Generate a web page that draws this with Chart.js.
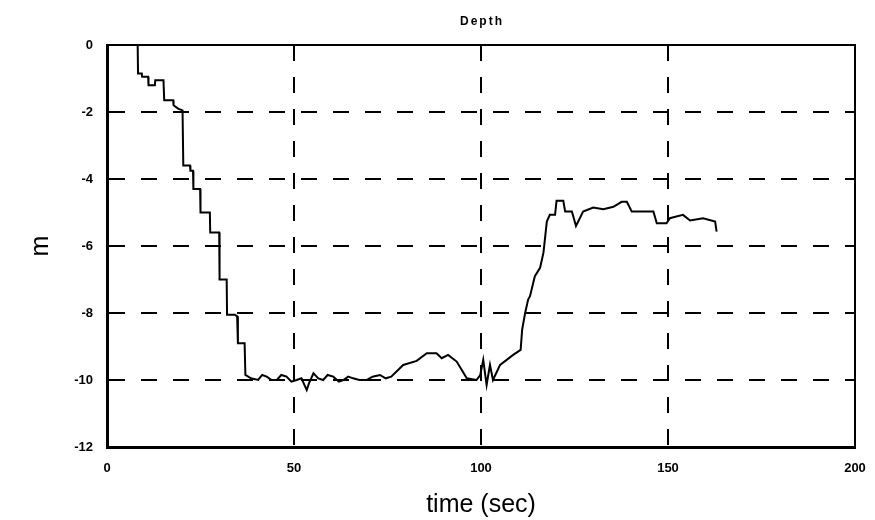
<!DOCTYPE html>
<html>
<head>
<meta charset="utf-8">
<script src="https://cdn.jsdelivr.net/npm/chart.js@4"></script>
<style>
  html, body { margin: 0; padding: 0; background: #fff; }
  #wrap { width: 875px; height: 520px; }
</style>
</head>
<body>
<div id="wrap"><canvas id="depthChart" width="875" height="520"></canvas></div>
<script>
// time (sec) and depth (m)
const timeSec = [
    0, 8.2, 8.3, 9.3, 9.4, 11, 11.1, 12.8, 12.9, 15.1, 15.3, 17.7, 17.8, 19, 20.2, 20.4,
    22.2, 22.3, 23, 23.1, 24.9, 25, 27.5, 27.6, 30, 30.1, 32, 32.1, 34.2, 34.8, 35, 36.8, 37,
    38.5, 40.4, 41.5, 42.7, 44, 45.4, 46.6, 48, 49.3, 50.7, 52, 53.4, 54, 55.2, 56.5, 57.8,
    59, 60.5, 62, 63.2, 64.5, 65.8, 67.5, 69.4, 71, 73, 74.5, 76,
    79.2, 82.8, 85.5, 88.1, 89.5, 91.2, 93.5, 96.2, 98.8, 99.8, 100.6, 101.5, 102.4, 103.2,
    105.1, 108.6, 110.6, 111, 111.8, 112.6, 113.1, 114.4, 115.8, 116.7, 117.6, 118.4,
    119.8, 120.2, 122, 122.5, 124.3, 125.4, 127.3, 130, 132.7, 135.4, 137.6, 139, 140.3,
    146.1, 147, 149.6, 150.5, 154, 155.9, 159.4, 162.6, 163
];
const depthM = [
    0, 0, -0.85, -0.85, -0.95, -0.95, -1.2, -1.2, -1.05, -1.05, -1.65, -1.65, -1.8, -1.9, -1.95, -3.6,
    -3.6, -3.75, -3.75, -4.3, -4.3, -5.0, -5.0, -5.6, -5.6, -7.0, -7.0, -8.05, -8.05, -8.1, -8.9, -8.9, -9.85,
    -9.95, -10.0, -9.85, -9.9, -10.0, -10.0, -9.85, -9.9, -10.05, -10.0, -9.95, -10.3, -10.1, -9.8, -9.95, -10.0,
    -9.85, -9.9, -10.05, -10.0, -9.9, -9.95, -10.0, -10.0, -9.9, -9.85, -9.95, -9.9,
    -9.55, -9.43, -9.2, -9.2, -9.35, -9.25, -9.45, -9.95, -10.0, -9.85, -9.4, -10.15, -9.55, -10.0,
    -9.55, -9.25, -9.1, -8.5, -8.0, -7.6, -7.5, -6.9, -6.65, -6.2, -5.27, -5.07,
    -5.07, -4.65, -4.65, -4.97, -4.97, -5.4, -4.97, -4.85, -4.9, -4.83, -4.68, -4.68, -4.97,
    -4.97, -5.32, -5.32, -5.17, -5.07, -5.24, -5.17, -5.27, -5.57
];
const xTicks = [0, 50, 100, 150, 200];
const yTicks = [0, -2, -4, -6, -8, -10, -12];
const chartTitle = 'Depth';

const tickFont = { family: 'Liberation Sans', size: 13, weight: 'bold' };

// title centred over the plot area, plus thin frame on top and right
const frame = {
    id: 'frame',
    afterDraw(chart) {
        const a = chart.chartArea;
        const c = chart.ctx;
        c.save();
        c.strokeStyle = '#000';
        c.lineWidth = 2;
        c.beginPath();
        c.moveTo(a.left, a.top);
        c.lineTo(a.right, a.top);
        c.lineTo(a.right, a.bottom);
        c.stroke();
        c.fillStyle = '#000';
        c.font = 'bold 12px "Liberation Sans"';
        c.textAlign = 'center';
        c.textBaseline = 'middle';
        if ('letterSpacing' in c) c.letterSpacing = '2px';
        c.fillText(chartTitle, (a.left + a.right) / 2 + 1, 22);
        c.restore();
    }
};

new Chart(document.getElementById('depthChart'), {
    type: 'line',
    data: {
        datasets: [{
            data: timeSec.map((t, i) => ({ x: t, y: depthM[i] })),
            borderColor: '#000',
            borderWidth: 2,
            pointRadius: 0,
            tension: 0,
            fill: false
        }]
    },
    options: {
        responsive: false,
        animation: false,
        layout: { padding: { left: 0, right: 20, top: 45, bottom: 0 } },
        plugins: {
            legend: { display: false },
            tooltip: { enabled: false },
            title: { display: false }
        },
        scales: {
            x: {
                type: 'linear',
                min: 0,
                max: 200,
                afterBuildTicks: s => { s.ticks = xTicks.map(v => ({ value: v })); },
                afterFit: s => { s.height = 73; s.paddingLeft = 0; s.paddingRight = 0; },
                ticks: { color: '#000', font: tickFont, padding: 14, maxRotation: 0 },
                grid: { color: '#000', lineWidth: 2, drawTicks: false },
                border: { color: '#000', width: 3, dash: [16, 16] },
                title: {
                    display: true,
                    text: 'time (sec)',
                    color: '#000',
                    font: { family: 'Liberation Sans', size: 25 },
                    padding: { top: 0, bottom: 0 }
                }
            },
            y: {
                type: 'linear',
                min: -12,
                max: 0,
                afterBuildTicks: s => { s.ticks = yTicks.map(v => ({ value: v })); },
                afterFit: s => { s.width = 107; s.paddingTop = 0; s.paddingBottom = 0; },
                ticks: { color: '#000', font: tickFont, padding: 14 },
                grid: { color: '#000', lineWidth: 2, drawTicks: false },
                border: { color: '#000', width: 3, dash: [16, 16] },
                title: {
                    display: true,
                    text: 'm',
                    color: '#000',
                    font: { family: 'Liberation Sans', size: 25 },
                    padding: { top: 26, bottom: 0 }
                }
            }
        }
    },
    plugins: [frame]
});
</script>
</body>
</html>
